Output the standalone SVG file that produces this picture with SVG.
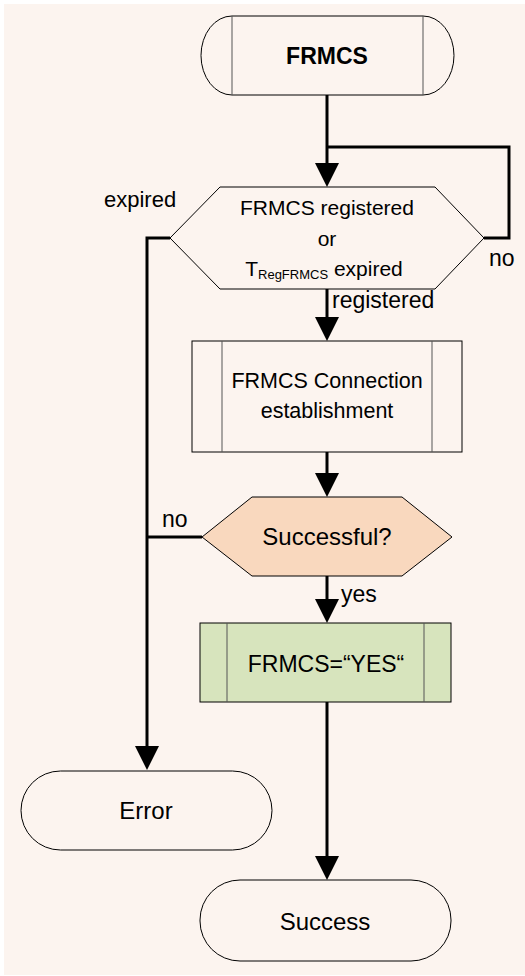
<svg xmlns="http://www.w3.org/2000/svg" width="525" height="976" viewBox="0 0 525 976">
<style>
.shape{stroke:#000;stroke-width:1;fill:#FCF4EF}
.inner{stroke:#555;stroke-width:1;fill:none}
.conn{stroke:#000;stroke-width:3;fill:none}
text{font-family:"Liberation Sans",Arial,sans-serif;fill:#000}
.c{text-anchor:middle}
</style>
<defs>
<marker id="arr" viewBox="0 0 24 24" markerWidth="24" markerHeight="24" refX="20" refY="12" orient="auto" markerUnits="userSpaceOnUse">
<path d="M0,0 L24,12 L0,24 Z" fill="#000"/>
</marker>
</defs>
<rect x="0" y="0" width="525" height="976" fill="#FFFFFF"/>
<rect x="4" y="4" width="521" height="971" fill="#FCF4EF"/>

<g id="connectors">
<path class="conn" d="M327,95 V183" marker-end="url(#arr)"/>
<path class="conn" d="M484,238 H509 V147 H327"/>
<path class="conn" d="M327,289 V337" marker-end="url(#arr)"/>
<path class="conn" d="M170,238 H147 V766" marker-end="url(#arr)"/>
<path class="conn" d="M327,452 V493" marker-end="url(#arr)"/>
<path class="conn" d="M202,537 H147"/>
<path class="conn" d="M327,576 V619" marker-end="url(#arr)"/>
<path class="conn" d="M327,702 V876" marker-end="url(#arr)"/>
<text x="104" y="207" font-size="22">expired</text>
<text x="489" y="266" font-size="23">no</text>
<text x="332" y="308" font-size="23">registered</text>
<text x="162" y="527" font-size="23">no</text>
<text x="341" y="602" font-size="23">yes</text>
</g>

<g id="start">
<path class="shape" d="M232,16 H423 A31,39.5 0 0 1 423,95 H232 A31,39.5 0 0 1 232,16 Z"/>
<line class="inner" x1="232" y1="16" x2="232" y2="95"/>
<line class="inner" x1="423" y1="16" x2="423" y2="95"/>
<text class="c" x="327" y="64" font-size="23" font-weight="bold">FRMCS</text>
</g>

<g id="decision-registered">
<polygon class="shape" points="170,238 220,187 435,187 484,238 435,289 220,289"/>
<text class="c" x="327" y="215" font-size="21">FRMCS registered</text>
<text class="c" x="327" y="246" font-size="21">or</text>
<text class="c" x="324" y="276" font-size="21">T<tspan font-size="13" dy="3">RegFRMCS</tspan><tspan dy="-3"> expired</tspan></text>
</g>

<g id="connection-establishment">
<rect class="shape" x="192" y="341" width="270" height="111"/>
<line class="inner" x1="222" y1="341" x2="222" y2="452"/>
<line class="inner" x1="432" y1="341" x2="432" y2="452"/>
<text class="c" x="327" y="388" font-size="21.5">FRMCS Connection</text>
<text class="c" x="327" y="418" font-size="21.5">establishment</text>
</g>

<g id="decision-successful">
<polygon class="shape" style="fill:#F9D8BE" points="202,537 252,497 402,497 452,537 402,576 252,576"/>
<text class="c" x="327" y="545" font-size="24">Successful?</text>
</g>

<g id="set-yes">
<rect class="shape" style="fill:#D7E4BD" x="200" y="623" width="251" height="79"/>
<line class="inner" x1="227" y1="623" x2="227" y2="702"/>
<line class="inner" x1="424" y1="623" x2="424" y2="702"/>
<text class="c" x="326" y="672" font-size="23">FRMCS=“YES“</text>
</g>

<g id="error">
<rect class="shape" x="21" y="771" width="251" height="79" rx="39.5" ry="39.5"/>
<text class="c" x="146" y="819" font-size="24">Error</text>
</g>

<g id="success">
<rect class="shape" x="200" y="880" width="251" height="81" rx="40" ry="40"/>
<text class="c" x="325" y="930" font-size="24">Success</text>
</g>
</svg>
